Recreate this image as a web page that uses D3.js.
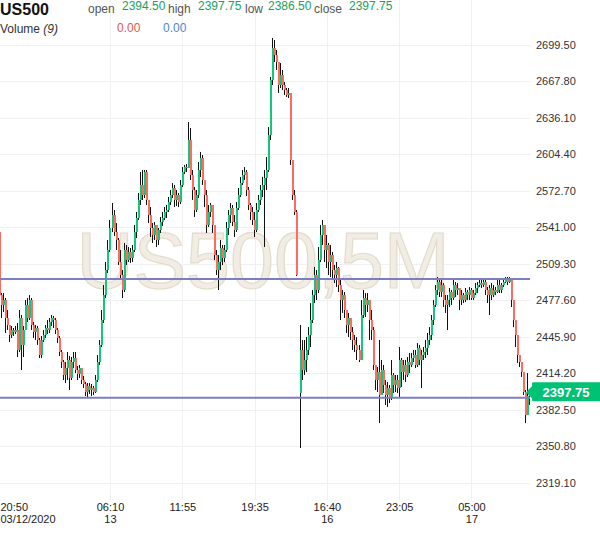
<!DOCTYPE html>
<html><head><meta charset="utf-8">
<script src="https://cdn.jsdelivr.net/npm/d3@7"></script>
<style>body{margin:0;background:#fff;} svg{display:block;font-family:Arial,"Liberation Sans",sans-serif;}</style>
</head><body><svg id="c" width="600" height="558"></svg>
<script>
const symbol = "US500";
const watermark = "US500,5M";
const headerLabels = ["open", "high", "low", "close"];
const headerValues = [2394.50, 2397.75, 2386.50, 2397.75];
const volumeLabel = "Volume";
const volumePeriod = "(9)";
const volumeValues = [0.00, 0.00];
const lastPrice = 2397.75;
const priceTicks = [2699.50, 2667.80, 2636.10, 2604.40, 2572.70, 2541.00, 2509.30, 2477.60, 2445.90, 2414.20, 2382.50, 2350.80, 2319.10];
const timeTickIndex = [0, 55, 91, 127, 163, 199, 235];
const timeTickTop = ["20:50", "06:10", "11:55", "19:35", "16:40", "23:05", "05:00"];
const timeTickBottom = ["03/12/2020", "13", "", "", "16", "", "17"];
const levelLines = [2496.0, 2393.0];
const firstOpen = 2536.8;
const gapOpens = {150: 2397.2};

const closes = [
 2482.2, 2473.5, 2477.9, 2462.2, 2456.2, 2447.5, 2451.8, 2450.1, 2451.8, 2434.5,
 2462.2, 2438.8, 2451.8, 2473.5, 2462.2, 2477.9, 2456.2, 2450.1, 2453.6, 2443.2,
 2430.1, 2443.2, 2447.5, 2453.6, 2451.8, 2458.8, 2462.2, 2460.5, 2451.8, 2444.9,
 2432.7, 2424.1, 2412.8, 2418.9, 2425.8, 2410.2, 2424.1, 2427.5, 2417.1, 2413.7,
 2418.9, 2408.5, 2405.0, 2398.0, 2403.2, 2399.8, 2401.5, 2398.0, 2408.5, 2424.1,
 2438.8, 2460.5, 2482.2, 2503.9, 2521.2, 2540.3, 2551.6, 2536.8, 2529.9, 2510.8,
 2499.5, 2486.5, 2521.2, 2512.6, 2519.5, 2514.3, 2521.2, 2536.8, 2549.0, 2564.6,
 2577.6, 2568.9, 2588.9, 2564.6, 2551.6, 2540.3, 2534.2, 2542.9, 2529.9, 2538.6,
 2545.5, 2549.0, 2554.2, 2555.9, 2562.9, 2568.9, 2575.0, 2564.6, 2568.9, 2562.9,
 2577.6, 2588.9, 2593.2, 2592.4, 2616.7, 2586.3, 2573.3, 2555.9, 2568.9, 2590.6,
 2601.0, 2581.9, 2568.9, 2542.9, 2554.2, 2560.3, 2542.9, 2516.9, 2503.9, 2510.8,
 2523.0, 2514.3, 2521.2, 2540.3, 2551.6, 2557.7, 2545.5, 2538.6, 2557.7, 2568.9,
 2579.3, 2586.3, 2588.9, 2573.3, 2560.3, 2554.2, 2547.3, 2538.6, 2555.9, 2564.6,
 2573.3, 2577.6, 2583.7, 2590.6, 2621.0, 2668.7, 2696.5, 2690.4, 2684.3, 2664.4,
 2673.0, 2664.4, 2660.0, 2655.7, 2657.4, 2599.3, 2568.9, 2554.2, 2499.5, null,
 2434.5, 2417.1, 2425.8, 2434.5, 2447.5, 2460.5, 2482.2, 2499.5, 2486.5, 2512.6,
 2534.2, 2542.9, 2521.2, 2525.6, 2510.8, 2516.9, 2503.9, 2499.5, 2505.6, 2490.9,
 2477.9, 2482.2, 2469.2, 2456.2, 2462.2, 2450.1, 2443.2, 2438.8, 2434.5, 2425.8,
 2464.8, 2479.6, 2473.5, 2477.9, 2460.5, 2451.8, 2421.5, 2408.5, 2415.4, 2395.4,
 2417.1, 2404.1, 2395.4, 2401.5, 2392.8, 2412.8, 2404.1, 2408.5, 2401.5, 2425.8,
 2415.4, 2421.5, 2412.8, 2424.1, 2421.5, 2427.5, 2430.1, 2421.5, 2436.2, 2425.8,
 2430.1, 2432.7, 2436.2, 2443.2, 2447.5, 2460.5, 2473.5, 2486.5, 2493.5, 2484.8,
 2490.9, 2477.9, 2473.5, 2477.9, 2484.8, 2479.6, 2490.9, 2486.5, 2488.3, 2477.9,
 2482.2, 2477.9, 2484.8, 2482.2, 2486.5, 2479.6, 2483.9, 2488.3, 2490.9, 2492.6,
 2490.9, 2493.5, 2486.5, 2482.2, 2488.3, 2482.2, 2486.5, 2484.8, 2490.9, 2486.5,
 2490.9, 2493.5, 2495.2, 2493.5, 2495.2, 2477.9, 2460.5, 2447.5, 2430.1, 2424.1,
 2415.4, 2398.0, 2378.1, 2394.5, 2397.75
];
const highs = [
 2540.3, 2483.9, 2483.9, 2479.6, 2469.2, 2456.2, 2455.3, 2453.6, 2455.3, 2457.9,
 2469.2, 2464.8, 2455.3, 2477.9, 2479.6, 2482.2, 2479.6, 2458.8, 2456.2, 2455.3,
 2444.9, 2446.6, 2451.8, 2456.2, 2460.5, 2462.2, 2464.8, 2464.0, 2462.2, 2453.6,
 2446.6, 2434.5, 2425.8, 2424.1, 2432.7, 2429.3, 2428.4, 2432.7, 2432.7, 2420.6,
 2421.5, 2418.9, 2411.9, 2406.7, 2405.9, 2405.9, 2405.0, 2403.2, 2412.8, 2430.1,
 2443.2, 2469.2, 2490.9, 2510.8, 2529.9, 2547.3, 2562.0, 2555.9, 2544.7, 2531.6,
 2521.2, 2503.9, 2527.3, 2525.6, 2523.8, 2523.0, 2525.6, 2542.9, 2554.2, 2570.7,
 2588.9, 2590.6, 2590.6, 2590.6, 2564.6, 2558.5, 2544.7, 2545.5, 2542.9, 2540.3,
 2549.9, 2554.2, 2558.5, 2560.3, 2567.2, 2573.3, 2579.3, 2577.6, 2573.3, 2570.7,
 2581.9, 2593.2, 2595.0, 2595.8, 2632.3, 2627.1, 2590.6, 2575.9, 2573.3, 2597.6,
 2606.2, 2603.6, 2581.9, 2573.3, 2560.3, 2562.0, 2560.3, 2542.9, 2521.2, 2516.9,
 2529.9, 2525.6, 2525.6, 2545.5, 2555.9, 2562.0, 2560.3, 2551.6, 2562.9, 2575.0,
 2584.6, 2590.6, 2593.2, 2590.6, 2575.9, 2562.0, 2558.5, 2554.2, 2562.0, 2568.9,
 2577.6, 2584.6, 2590.6, 2601.9, 2627.9, 2671.3, 2705.1, 2703.4, 2694.7, 2684.3,
 2683.4, 2677.4, 2667.0, 2661.8, 2661.8, 2655.7, 2599.3, 2573.3, 2555.9, null,
 2456.2, 2443.2, 2443.2, 2445.8, 2454.4, 2475.3, 2486.5, 2506.5, 2503.9, 2523.8,
 2542.9, 2547.3, 2542.9, 2534.2, 2527.3, 2525.6, 2519.5, 2508.2, 2510.8, 2506.5,
 2495.2, 2486.5, 2484.8, 2469.2, 2466.6, 2460.5, 2454.4, 2447.5, 2445.8, 2438.8,
 2477.9, 2486.5, 2483.9, 2483.9, 2477.9, 2469.2, 2454.4, 2421.5, 2419.7, 2443.2,
 2425.8, 2421.5, 2408.5, 2406.7, 2404.1, 2425.8, 2414.5, 2412.8, 2412.8, 2437.1,
 2427.5, 2425.8, 2425.8, 2428.4, 2431.9, 2431.9, 2434.5, 2434.5, 2440.5, 2438.8,
 2434.5, 2437.1, 2443.2, 2449.2, 2454.4, 2464.8, 2477.9, 2490.9, 2497.8, 2496.9,
 2495.2, 2492.6, 2482.2, 2482.2, 2488.3, 2486.5, 2495.2, 2493.5, 2492.6, 2488.3,
 2486.5, 2483.9, 2488.3, 2486.5, 2489.1, 2488.3, 2486.5, 2492.6, 2493.5, 2495.2,
 2495.2, 2495.2, 2495.2, 2489.1, 2490.9, 2492.6, 2490.9, 2489.1, 2495.2, 2495.2,
 2492.6, 2496.9, 2497.8, 2497.8, 2497.8, 2495.2, 2477.9, 2460.5, 2447.5, 2430.1,
 2424.1, 2415.4, 2399.8, 2414.5, 2397.75
];
const lows = [
 2477.9, 2462.2, 2467.4, 2449.2, 2451.8, 2441.4, 2444.9, 2446.6, 2448.4, 2428.4,
 2432.7, 2417.1, 2428.4, 2451.8, 2458.8, 2460.5, 2451.8, 2444.9, 2443.2, 2438.8,
 2427.5, 2427.5, 2441.4, 2444.9, 2448.4, 2449.2, 2455.3, 2453.6, 2448.4, 2440.5,
 2429.3, 2418.9, 2408.5, 2405.9, 2408.5, 2399.8, 2408.5, 2418.9, 2414.5, 2408.5,
 2410.2, 2405.0, 2401.5, 2394.6, 2393.7, 2396.3, 2394.6, 2395.4, 2397.2, 2406.7,
 2421.5, 2437.1, 2457.9, 2479.6, 2501.3, 2519.5, 2536.8, 2533.4, 2521.2, 2508.2,
 2496.9, 2479.6, 2484.8, 2508.2, 2510.8, 2510.0, 2510.8, 2519.5, 2531.6, 2547.3,
 2560.3, 2564.6, 2566.3, 2560.3, 2544.7, 2532.5, 2527.3, 2529.9, 2523.8, 2525.6,
 2536.0, 2542.0, 2547.3, 2549.0, 2554.2, 2560.3, 2566.3, 2558.5, 2559.4, 2558.5,
 2561.1, 2575.9, 2587.2, 2588.9, 2592.4, 2581.9, 2564.6, 2549.9, 2554.2, 2566.3,
 2584.6, 2577.6, 2558.5, 2536.0, 2541.2, 2549.9, 2536.0, 2512.6, 2499.5, 2486.5,
 2503.9, 2508.2, 2510.8, 2519.5, 2534.2, 2544.7, 2542.0, 2532.5, 2536.8, 2555.9,
 2567.2, 2577.6, 2581.9, 2568.1, 2555.9, 2547.3, 2542.9, 2532.5, 2536.8, 2554.2,
 2560.3, 2567.2, 2523.8, 2573.3, 2588.9, 2616.7, 2664.4, 2684.3, 2677.4, 2657.4,
 2661.8, 2660.0, 2655.7, 2654.0, 2653.1, 2595.0, 2564.6, 2551.6, 2498.7, null,
 2349.5, 2408.5, 2412.8, 2415.4, 2430.1, 2437.1, 2457.9, 2475.3, 2477.9, 2483.9,
 2510.8, 2525.6, 2510.8, 2505.6, 2499.5, 2497.8, 2495.2, 2492.6, 2489.1, 2484.8,
 2460.5, 2466.6, 2462.2, 2449.2, 2445.8, 2443.2, 2434.5, 2432.7, 2425.8, 2424.1,
 2447.5, 2462.2, 2463.1, 2467.4, 2443.2, 2443.2, 2417.1, 2399.8, 2398.0, 2371.2,
 2395.4, 2397.2, 2386.8, 2385.0, 2388.5, 2391.1, 2397.2, 2398.0, 2397.2, 2393.7,
 2402.4, 2408.5, 2406.7, 2411.1, 2414.5, 2419.7, 2424.1, 2418.9, 2419.7, 2421.5,
 2401.5, 2425.8, 2427.5, 2430.1, 2438.8, 2443.2, 2456.2, 2471.8, 2482.2, 2480.5,
 2480.5, 2471.8, 2466.6, 2451.8, 2471.8, 2473.5, 2477.9, 2480.5, 2482.2, 2469.2,
 2473.5, 2475.3, 2476.1, 2477.9, 2477.9, 2477.9, 2477.9, 2482.2, 2483.9, 2489.1,
 2488.3, 2489.1, 2482.2, 2475.3, 2464.8, 2477.9, 2480.5, 2482.2, 2483.9, 2483.9,
 2483.9, 2489.1, 2492.6, 2490.9, 2492.6, 2471.8, 2454.4, 2437.1, 2423.2, 2419.7,
 2411.1, 2395.4, 2371.2, 2378.1, 2386.5
];

// ---------- drawing ----------
const upColor = "#12c77d", downColor = "#ff6b5e";
const svg = d3.select("#c");
const plotRight = 530, plotBottom = 500;

const y = d3.scaleLinear().domain([2319.1, 2699.5]).range([483, 44.5]);
const x = d3.scaleLinear().domain([0, closes.length - 1]).range([-0.45, 529.7]);

svg.append("defs").append("clipPath").attr("id", "plotClip")
  .append("rect").attr("x", 0).attr("y", 0).attr("width", plotRight).attr("height", plotBottom);

// grid
const grid = svg.append("g");
grid.selectAll("line.h").data(priceTicks).join("line").attr("class", "h")
  .attr("x1", 0).attr("x2", plotRight)
  .attr("y1", d => Math.round(y(d)) + 0.5).attr("y2", d => Math.round(y(d)) + 0.5)
  .attr("stroke", "#f0f0f0");
grid.selectAll("line.v").data(timeTickIndex.slice(1)).join("line").attr("class", "v")
  .attr("x1", d => Math.round(x(d)) + 0.5).attr("x2", d => Math.round(x(d)) + 0.5)
  .attr("y1", 0).attr("y2", plotBottom)
  .attr("stroke", "#f0f0f0");

// watermark
svg.append("text").text(watermark)
  .attr("x", 263).attr("y", 288).attr("text-anchor", "middle")
  .attr("font-size", 79).attr("fill", "#f1ede4").attr("stroke", "#e3dccb").attr("stroke-width", 1.2);

// candles
const candles = [];
let prevClose = null;
closes.forEach((c, i) => {
  if (c == null) return;
  let o = (i === 0) ? firstOpen : (gapOpens[i] != null ? gapOpens[i] : prevClose);
  candles.push({i, o, h: highs[i], l: lows[i], c});
  prevClose = c;
});
const cg = svg.append("g").attr("clip-path", "url(#plotClip)").attr("shape-rendering", "crispEdges");
cg.selectAll("rect.wick").data(candles).join("rect").attr("class", "wick")
  .attr("x", d => Math.floor(x(d.i)))
  .attr("width", 1)
  .attr("y", d => y(Math.max(d.h, d.o, d.c)))
  .attr("height", d => Math.max(1, y(Math.min(d.l, d.o, d.c)) - y(Math.max(d.h, d.o, d.c))))
  .attr("fill", "#111");
cg.selectAll("rect.body").data(candles).join("rect").attr("class", "body")
  .attr("x", d => Math.floor(x(d.i)))
  .attr("width", 2)
  .attr("y", d => y(Math.max(d.o, d.c)))
  .attr("height", d => Math.max(1, Math.abs(y(d.o) - y(d.c))))
  .attr("fill", d => d.c >= d.o ? upColor : downColor);

// level lines
svg.append("g").selectAll("line").data(levelLines).join("line")
  .attr("x1", 0).attr("x2", plotRight)
  .attr("y1", d => y(d)).attr("y2", d => y(d))
  .attr("stroke", "#7b7ec0").attr("stroke-width", 2);

// right price axis
const ya = svg.append("g").attr("transform", `translate(${plotRight},0)`)
  .call(d3.axisRight(y).tickValues(priceTicks).tickFormat(d3.format(".2f")).tickSize(0).tickPadding(6));
ya.select(".domain").remove();
ya.selectAll("text").attr("font-size", 11).attr("fill", "#333").attr("font-family", "Arial, 'Liberation Sans', sans-serif");

// bottom time axis
const xa = svg.append("g").attr("transform", `translate(0,${plotBottom})`)
  .call(d3.axisBottom(x).tickValues(timeTickIndex).tickSize(0).tickPadding(4).tickFormat(() => ""));
xa.select(".domain").remove();
xa.selectAll(".tick text").each(function(d, k) {
  const t = d3.select(this).text(null)
    .attr("font-size", 11).attr("fill", "#222").attr("font-family", "Arial, 'Liberation Sans', sans-serif")
    .attr("y", 1).attr("dy", null);
  if (k === 0) t.attr("text-anchor", "start").attr("x", 0.45);
  t.append("tspan").attr("x", k === 0 ? 0.45 : 0).attr("dy", "0.9em").text(timeTickTop[k]);
  t.append("tspan").attr("x", k === 0 ? 0.45 : 0).attr("dy", "1.1em").text(timeTickBottom[k]);
});

// price tag
const ty = y(lastPrice);
const tag = svg.append("g");
tag.append("path")
  .attr("d", `M526,${ty} L532,${ty - 6} L532,${ty - 9} Q532,${ty - 10} 534,${ty - 10} L600,${ty - 10} L600,${ty + 9} L534,${ty + 9} Q532,${ty + 9} 532,${ty + 8} L532,${ty + 6} Z`)
  .attr("fill", "#00c274");
tag.append("text").text(d3.format(".2f")(lastPrice))
  .attr("x", 566).attr("y", ty + 0.5).attr("dy", "0.35em").attr("text-anchor", "middle")
  .attr("font-size", 13).attr("font-weight", "bold").attr("fill", "#fff");

// header
const hdr = svg.append("g");
hdr.append("text").text(symbol).attr("x", 0).attr("y", 15)
  .attr("font-size", 16).attr("font-weight", "bold").attr("fill", "#111");
const labelX = [88, 168, 245, 314];
const valueX = [122, 198, 268, 349];
headerLabels.forEach((lab, k) => {
  hdr.append("text").text(lab).attr("x", labelX[k]).attr("y", 13)
    .attr("font-size", 12).attr("fill", "#555");
  hdr.append("text").text(d3.format(".2f")(headerValues[k])).attr("x", valueX[k]).attr("y", 10)
    .attr("font-size", 12).attr("fill", "#1a9e5e");
});
const vt = hdr.append("text").attr("x", 0).attr("y", 33).attr("font-size", 12).attr("fill", "#333");
vt.append("tspan").text(volumeLabel + " ");
vt.append("tspan").attr("font-style", "italic").text(volumePeriod);
const volX = [117, 163], volC = ["#e0564c", "#4a86e0"];
volumeValues.forEach((v, k) => {
  hdr.append("text").text(d3.format(".2f")(v)).attr("x", volX[k]).attr("y", 32)
    .attr("font-size", 12).attr("fill", volC[k]);
});
</script>
</body></html>
